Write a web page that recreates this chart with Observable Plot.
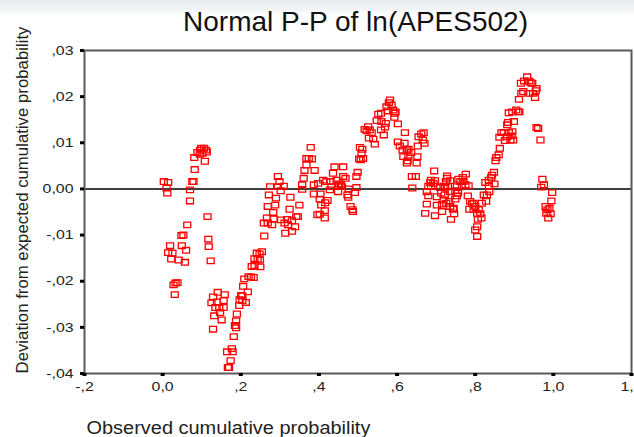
<!DOCTYPE html>
<html><head><meta charset="utf-8">
<script src="https://cdn.jsdelivr.net/npm/d3@7"></script>
<script src="https://cdn.jsdelivr.net/npm/@observablehq/plot@0.6"></script>
<style>
html,body{margin:0;padding:0;background:#fff;}
body{width:634px;height:437px;overflow:hidden;background:linear-gradient(#e8eaee 0px,#f2f3f5 9px,#ffffff 15px) no-repeat;}
#chart svg{display:block;background:transparent;}
</style></head><body><div id="chart"></div>
<script>
const titleText = "Normal P-P of ln(APES502)";
const xLabel = "Observed cumulative probability";
const yLabel = "Deviation from expected cumulative probability";

const xTicks = [-0.2, 0, 0.2, 0.4, 0.6, 0.8, 1.0, 1.2];
const xTickLabels = ["-,2", "0,0", ",2", ",4", ",6", ",8", "1,0", "1,2"];
const yTicks = [0.03, 0.02, 0.01, 0, -0.01, -0.02, -0.03, -0.04];
const yTickLabels = [",03", ",02", ",01", "0,00", "-,01", "-,02", "-,03", "-,04"];

// Observed cumulative probability of each case
const obsProb = [
  0.003,0.014,0.010,0.012,0.019,0.014,0.025,0.022,0.041,0.057,
  0.060,0.049,0.048,0.053,0.063,0.033,0.028,0.038,0.031,0.070,
  0.070,0.076,0.079,0.082,0.081,0.089,0.096,0.099,0.106,0.111,
  0.113,0.102,0.095,0.108,0.115,0.117,0.118,0.123,
  0.141,0.159,0.129,0.156,0.125,0.139,0.135,0.145,0.156,0.147,
  0.132,0.151,0.129,0.190,0.188,0.185,0.188,0.182,0.165,0.177,
  0.179,0.174,0.167,0.170,0.196,0.201,0.204,0.197,0.204,0.213,
  0.218,0.206,0.209,0.220,0.226,0.233,0.228,0.235,0.250,0.235,
  0.243,0.249,0.241,0.248,0.254,0.260,0.259,0.269,0.280,0.267,
  0.284,0.283,0.288,0.290,0.269,0.272,0.275,0.295,0.303,0.295,
  0.299,0.310,0.302,
  0.327,0.325,0.350,0.312,0.319,0.331,0.342,0.346,0.339,0.331,
  0.314,0.321,0.357,0.357,0.361,0.363,0.368,0.368,0.374,0.382,
  0.379,0.389,0.387,0.387,0.404,0.402,0.406,0.422,0.416,0.402,
  0.396,0.415,0.415,0.398,0.411,0.419,0.430,0.436,0.440,0.462,
  0.462,0.468,0.456,0.459,0.449,0.445,0.452,0.432,0.428,0.449,
  0.473,0.476,0.496,0.492,0.475,0.496,0.499,0.507,0.509,0.511,
  0.505,0.481,0.486,0.487,0.503,0.513,
  0.517,0.526,0.530,0.535,0.522,0.528,0.539,0.543,0.552,0.559,
  0.548,0.560,0.571,0.569,0.559,0.566,0.573,0.579,0.582,0.586,
  0.590,0.576,0.596,0.593,0.602,0.594,0.620,0.602,0.607,0.619,
  0.614,0.625,0.629,0.636,0.616,0.629,0.627,0.652,0.650,0.625,
  0.655,0.662,0.668,0.666,0.670,0.653,0.638,0.648,0.639,
  0.695,0.687,0.697,0.685,0.693,0.680,0.687,0.676,0.680,0.676,
  0.672,0.697,0.702,0.713,0.710,0.719,0.723,0.728,0.728,0.736,
  0.736,0.702,0.715,0.726,0.715,0.725,0.730,0.722,0.719,0.757,
  0.762,0.768,0.776,0.770,0.775,0.783,0.766,0.753,0.749,0.756,
  0.753,0.749,0.733,0.736,0.745,0.746,0.738,0.743,
  0.781,0.787,0.796,0.792,0.785,0.796,0.800,0.809,0.805,0.813,
  0.816,0.807,0.805,0.800,0.805,0.817,0.822,0.830,0.828,0.836,
  0.835,0.826,0.835,0.841,0.843,0.848,0.849,0.852,0.854,0.860,
  0.863,
  0.862,0.867,0.873,0.876,0.882,0.886,0.893,0.895,0.890,0.897,
  0.882,0.884,0.899,0.886,0.895,0.905,0.910,0.913,0.912,0.918,
  0.923,0.917,0.925,0.933,0.938,0.942,0.946,0.948,0.955,0.957,
  0.953,0.939,0.957,0.961,0.967,0.972,0.976,0.969,0.997,0.995,
  0.980,0.985,0.982,0.990,0.993,0.987
];

// Deviation from expected cumulative probability, same order
const deviation = [
  0.0016,0.0014,0.0002,-0.0009,-0.0123,-0.0138,-0.0139,-0.0152,-0.0154,-0.0159,
  -0.0133,-0.0123,-0.0101,-0.0100,-0.0078,-0.0204,-0.0208,-0.0203,-0.0229,-0.0002,
  -0.0026,0.0016,0.0016,0.0042,0.0068,0.0079,0.0084,0.0088,0.0088,0.0084,
  0.0080,0.0077,0.0075,0.0060,-0.0060,-0.0109,-0.0125,-0.0156,
  -0.0224,-0.0229,-0.0234,-0.0242,-0.0247,-0.0245,-0.0257,-0.0258,-0.0257,-0.0268,
  -0.0275,-0.0284,-0.0304,-0.0271,-0.0286,-0.0296,-0.0301,-0.0320,-0.0353,-0.0346,
  -0.0353,-0.0372,-0.0387,-0.0387,-0.0253,-0.0231,-0.0232,-0.0240,-0.0242,-0.0246,
  -0.0223,-0.0211,-0.0195,-0.0190,-0.0191,-0.0192,-0.0168,-0.0166,-0.0169,-0.0151,
  -0.0152,-0.0154,-0.0139,-0.0141,-0.0136,-0.0102,-0.0074,-0.0074,-0.0078,-0.0063,
  -0.0065,-0.0051,-0.0035,-0.0020,-0.0038,-0.0013,0.0005,0.0005,-0.0067,0.0027,
  0.0016,0.0006,-0.0004,
  -0.0018,-0.0044,-0.0035,-0.0074,-0.0066,-0.0069,-0.0060,-0.0060,-0.0082,-0.0092,
  -0.0096,-0.0078,0.0009,-0.0001,0.0023,0.0040,0.0052,0.0066,0.0066,0.0065,
  0.0090,0.0040,0.0009,-0.0011,-0.0011,-0.0022,-0.0035,-0.0025,-0.0030,-0.0055,
  -0.0056,-0.0047,-0.0063,0.0012,0.0019,0.0016,0.0016,0.0034,0.0048,0.0048,
  0.0027,0.0023,0.0009,0.0005,0.0005,0.0019,0.0011,0.0005,-0.0002,-0.0006,
  -0.0013,0.0000,0.0003,-0.0008,-0.0018,0.0027,0.0036,0.0063,0.0077,0.0086,
  0.0090,-0.0038,-0.0045,-0.0049,0.0065,0.0066,
  0.0129,0.0135,0.0128,0.0122,0.0126,0.0110,0.0108,0.0097,0.0162,0.0164,
  0.0148,0.0146,0.0142,0.0134,0.0128,0.0117,0.0178,0.0187,0.0193,0.0182,
  0.0171,0.0169,0.0167,0.0155,0.0141,0.0164,0.0122,0.0102,0.0093,0.0099,
  0.0084,0.0083,0.0086,0.0079,0.0070,0.0070,0.0061,0.0070,0.0056,0.0056,
  0.0113,0.0119,0.0122,0.0106,0.0099,0.0093,0.0027,0.0027,0.0002,
  0.0039,0.0019,0.0018,0.0014,0.0012,0.0006,0.0005,-0.0006,-0.0015,-0.0033,
  -0.0053,-0.0058,-0.0017,-0.0009,0.0003,0.0006,0.0002,0.0023,0.0028,0.0018,
  -0.0006,-0.0035,-0.0033,-0.0031,-0.0049,0.0016,0.0006,-0.0013,-0.0024,0.0021,
  0.0016,0.0025,0.0032,0.0016,0.0009,0.0007,0.0006,0.0005,-0.0004,-0.0009,
  -0.0015,-0.0022,-0.0027,-0.0038,-0.0042,-0.0054,-0.0066,-0.0044,
  -0.0015,-0.0027,-0.0031,-0.0032,-0.0044,-0.0044,-0.0038,-0.0045,-0.0053,-0.0054,
  -0.0063,-0.0066,-0.0082,-0.0089,-0.0103,-0.0031,-0.0013,-0.0013,-0.0027,-0.0006,
  0.0006,0.0014,0.0019,0.0025,0.0030,0.0036,0.0011,0.0061,0.0068,0.0074,
  0.0088,
  0.0112,0.0122,0.0122,0.0105,0.0113,0.0122,0.0115,0.0124,0.0106,0.0106,
  0.0139,0.0144,0.0146,0.0165,0.0167,0.0171,0.0167,0.0167,0.0194,0.0207,
  0.0211,0.0229,0.0234,0.0243,0.0234,0.0230,0.0229,0.0207,0.0213,0.0218,
  0.0198,0.0207,0.0133,0.0131,0.0106,0.0021,0.0009,0.0004,-0.0008,-0.0026,
  -0.0038,-0.0045,-0.0053,-0.0042,-0.0054,-0.0063
];

const points = obsProb.map((x, i) => ({x, d: deviation[i]}));
const xLab = new Map(xTicks.map((t, i) => [t, xTickLabels[i]]));
const yLab = new Map(yTicks.map((t, i) => [t, yTickLabels[i]]));

// open rectangle marker, slightly wider than tall
const rectSymbol = {
  draw(ctx, size) {
    const r = Math.sqrt(size / Math.PI), w = r, h = r * 0.8;
    ctx.moveTo(-w, -h); ctx.lineTo(w, -h); ctx.lineTo(w, h); ctx.lineTo(-w, h); ctx.closePath();
  }
};

const chart = Plot.plot({
  width: 634, height: 437,
  marginTop: 50, marginLeft: 84, marginRight: 3, marginBottom: 64,
  style: {fontFamily: "'Liberation Sans', Arial, sans-serif", background: "transparent", color: "#000"},
  x: {domain: [-0.2, 1.2]},
  y: {domain: [-0.04, 0.03]},
  marks: [
    Plot.ruleY([0], {stroke: "#000", strokeWidth: 1.5}),
    Plot.dot(points, {x: "x", y: "d", symbol: rectSymbol, r: 3.5, stroke: "#ff0000", strokeWidth: 1.3, fill: "none"}),
    Plot.frame({stroke: "#5a5a5a", strokeWidth: 2}),
    Plot.axisY({ticks: yTicks, tickFormat: d => yLab.get(d), tickSize: 4, tickPadding: 7, strokeWidth: 3, stroke: "#000", fill: "#222", fontSize: 13, label: null}),
    Plot.axisX({ticks: xTicks, tickFormat: d => xLab.get(d), tickSize: 3, tickPadding: 5, strokeWidth: 4, stroke: "#000", fill: "#222", fontSize: 13, label: null}),
    Plot.text([titleText], {text: d => d, frameAnchor: "top", lineAnchor: "middle", dx: -2.5, dy: -28, fontSize: 28, fill: "#111"}),
    Plot.text([yLabel], {text: d => d, frameAnchor: "left", textAnchor: "middle", lineAnchor: "middle", rotate: -90, dx: -62, dy: -12, fontSize: 16.8, fill: "#222"}),
    Plot.text([xLabel], {text: d => d, frameAnchor: "bottom-left", textAnchor: "start", lineAnchor: "middle", dx: 2, dy: 55, fontSize: 17.5, fill: "#222"})
  ]
});
document.getElementById("chart").append(chart);

function stretch(nodes, k) {
  nodes.forEach(t => {
    const L = t.getComputedTextLength();
    t.setAttribute("textLength", (L * k).toFixed(1));
    t.setAttribute("lengthAdjust", "spacingAndGlyphs");
  });
}
const allText = Array.from(chart.querySelectorAll("text"));
stretch(allText.filter(t => xTickLabels.includes(t.textContent) || yTickLabels.includes(t.textContent)), 1.22);
stretch(allText.filter(t => t.textContent === xLabel), 1.14);
</script></body></html>
